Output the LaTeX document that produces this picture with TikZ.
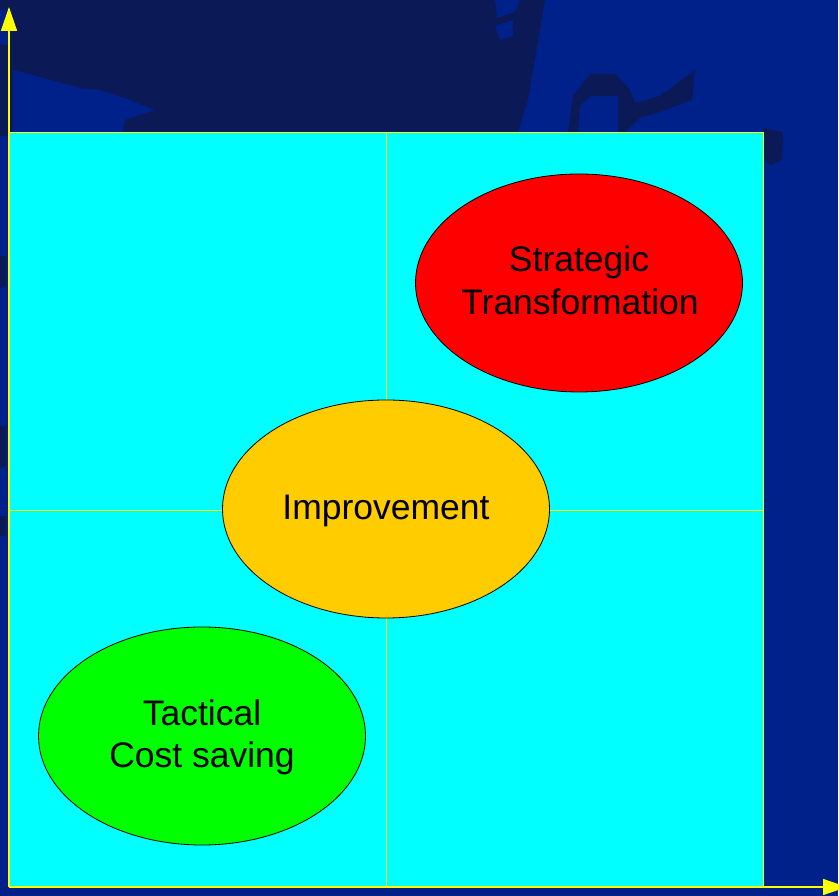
\documentclass[tikz,border=0pt]{standalone}
\usepackage{fontspec}
\setmainfont{Liberation Sans}
\usetikzlibrary{shapes.geometric,arrows.meta}
\definecolor{navy}{HTML}{0B1A57}
\definecolor{midblue}{HTML}{00208A}
\definecolor{quadcyan}{HTML}{00FFFF}
\definecolor{axisyellow}{HTML}{FFFF00}
\definecolor{improveorange}{HTML}{FFCC00}
\tikzset{
  zone/.style={ellipse,draw=black,line width=0.8pt,minimum width=327pt,minimum height=218pt,inner sep=0pt},
  zonetext/.style={anchor=base,inner sep=0pt,font=\fontsize{35.5}{43}\selectfont},
  axis/.style={draw=axisyellow,line width=1.4pt,-{Triangle[width=16pt,length=24pt]}},
  grid/.style={draw=axisyellow,line width=1pt}
}
\begin{document}
\begin{tikzpicture}[x=1pt,y=1pt]
    \useasboundingbox (0,0) rectangle (838,896);
    \fill[midblue] (0,0) rectangle (838,896);

    \fill[navy] (10,896) -- (545,896) -- (538,856) -- (528,796) -- (518,764) -- (453,764)
        -- (463,796) -- (467,836) -- (450,870) -- (430,896) -- cycle;
    \fill[navy] (13,896) -- (13,826) -- (33,821) -- (80,808) -- (100,806) -- (125,798)
        -- (155,786) -- (125,776) -- (123,764) -- (453,764) -- (463,796) -- (467,836)
        -- (450,870) -- (430,896) -- cycle;
    \fill[navy] (0,896) -- (13,896) -- (13,760) -- (0,760) -- cycle;
    \fill[midblue] (0,886) -- (10,886) -- (10,850) -- (0,852) -- cycle;
    \fill[midblue] (495,896) -- (520,896) -- (515,884) -- (497,878) -- cycle;
    \fill[midblue] (495,870) -- (513,876) -- (513,860) -- (500,856) -- cycle;
    \fill[navy] (568,764) -- (573,800) -- (590,822) -- (615,822) -- (630,806) -- (635,793)
        -- (660,800) -- (690,822) -- (695,826) -- (692,796) -- (660,784) -- (640,778)
        -- (625,764) -- (618,764) -- (618,800) -- (590,800) -- (580,790) -- (578,764) -- cycle;
    \fill[navy] (763,768) -- (783,764) -- (782,736) -- (770,730) -- (763,740) -- cycle;
    \fill[navy] (0,640) -- (6,640) -- (6,610) -- (0,608) -- cycle;
    \fill[navy] (0,470) -- (6,470) -- (6,430) -- (0,428) -- cycle;
    \fill[navy] (0,380) -- (6,380) -- (6,360) -- (0,360) -- cycle;

    \fill[quadcyan,draw=axisyellow,line width=0.8pt] (9,9) rectangle (763,764);
    \coordinate (origin) at (9,9);
    \coordinate (ytop) at (9,889);
    \coordinate (xend) at (847,9);
    \coordinate (midtop) at (386.5,764);
    \coordinate (midbot) at (386.5,9);
    \coordinate (midleft) at (9,385.5);
    \coordinate (midright) at (763,385.5);
    \draw[grid] (midtop) -- (midbot);
    \draw[grid] (midleft) -- (midright);
    \draw[axis] (origin) -- (ytop);
    \draw[axis] (origin) -- (xend);

    \node[zone,fill=red] (strategic) at (579,613) {};
    \node[zone,fill=improveorange] (improve) at (386,387) {};
    \node[zone,fill=green] (tactical) at (202,160) {};

    \node[zonetext] (strategic1) at (579,624) {Strategic};
    \node[zonetext] (strategic2) at (580,581) {Transformation};
    \node[zonetext] (improvetext) at (386,376) {Improvement};
    \node[zonetext] (tactical1) at (202,170) {Tactical};
    \node[zonetext] (tactical2) at (202,128) {Cost saving};
\end{tikzpicture}
\end{document}
